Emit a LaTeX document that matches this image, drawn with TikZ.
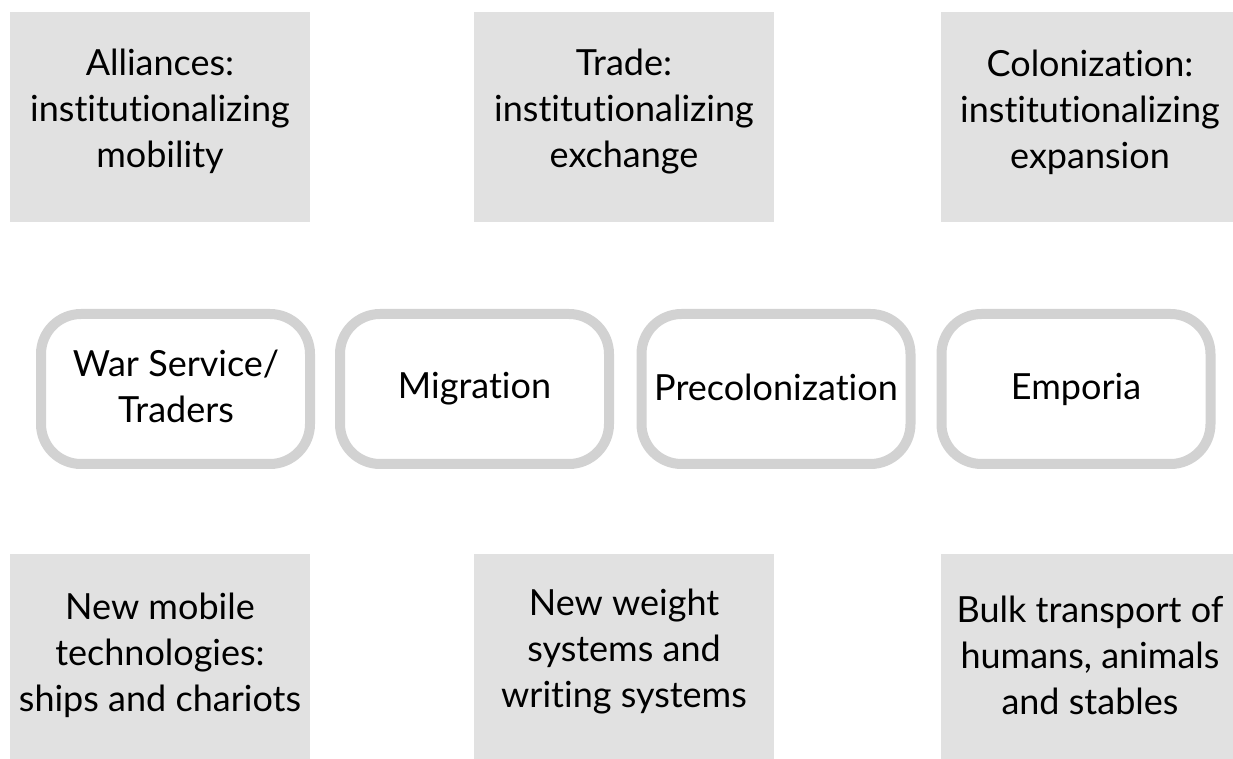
\documentclass[tikz,border=0pt]{standalone}
\usepackage{fontspec}
\setmainfont{Lato}[Ligatures={NoCommon}]
\begin{document}
\begin{tikzpicture}[x=0.5pt,y=-0.5pt,
  graybox/.style={draw=none,fill=boxgray,inner sep=0pt,anchor=north west},
  roundbox/.style={draw=ringgray,line width=5pt,fill=white,rounded corners=20pt,
    minimum width=134.5pt,minimum height=75pt,inner sep=0pt},
  boxtext/.style={align=center,inner sep=0pt,text=black,
    font=\fontsize{18}{23}\selectfont}
]
\definecolor{boxgray}{HTML}{E1E1E1}
\definecolor{ringgray}{HTML}{D2D2D2}
\useasboundingbox (0,0) rectangle (1233,759);
\fill[white] (0,0) rectangle (1233,759);
% top boxes
\node[graybox,minimum width=150pt,minimum height=105pt] (t1) at (10,12) {};
\node[graybox,minimum width=150pt,minimum height=105pt] (t2) at (474,12) {};
\node[graybox,minimum width=146pt,minimum height=105pt] (t3) at (941,12) {};
\node[boxtext] (t1txt) at (160,111) {Alliances:\\institutionalizing\\mobility};
\node[boxtext] (t2txt) at (624,112) {Trade:\\institutionalizing\\exchange};
\node[boxtext] (t3txt) at (1090,112) {Colonization:\\institutionalizing\\expansion};
% middle
\node[roundbox] (m1) at (175.5,389) {};
\node[roundbox] (m2) at (474.5,389) {};
\node[roundbox] (m3) at (776,389) {};
\node[roundbox] (m4) at (1076,389) {};
\node[boxtext] (m1txt) at (176,386) {War Service/\\Traders};
\node[boxtext] (m2txt) at (474.5,389) {Migration};
\node[boxtext] (m3txt) at (776,387) {Precolonization};
\node[boxtext] (m4txt) at (1076,389) {Emporia};
% bottom boxes
\node[graybox,minimum width=150pt,minimum height=102.5pt] (b1) at (10,554) {};
\node[graybox,minimum width=150pt,minimum height=102.5pt] (b2) at (474,554) {};
\node[graybox,minimum width=146pt,minimum height=102.5pt] (b3) at (941,554) {};
\node[boxtext] (b1txt) at (160,655) {New mobile\\technologies:\\ships and chariots};
\node[boxtext] (b2txt) at (624,652) {New weight\\systems and\\writing systems};
\node[boxtext] (b3txt) at (1090,655) {Bulk transport of\\humans, animals\\and stables};
\end{tikzpicture}
\end{document}
